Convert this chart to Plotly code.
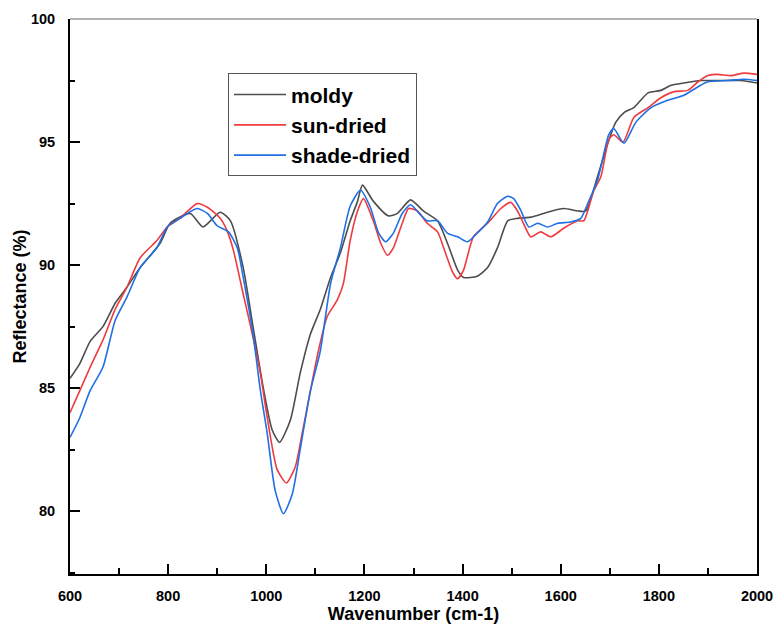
import plotly.graph_objects as go

moldy_w = [600, 620, 641, 667, 692, 716, 743, 784, 804, 845, 871, 906, 927, 953, 973, 994, 1012, 1027, 1049, 1069,
           1090, 1110, 1131, 1151, 1171, 1186, 1196, 1218, 1249, 1267, 1294, 1320, 1349, 1369, 1390, 1402, 1430, 1451,
           1471, 1492, 1512, 1539, 1573, 1606, 1635, 1651, 1675, 1696, 1712, 1729, 1749, 1778, 1804, 1824, 1851, 1886,
           1920, 1967, 2000]
moldy_v = [85.4, 86.0, 86.9, 87.5, 88.45, 89.1, 89.9, 90.9, 91.7, 92.1, 91.55, 92.15, 91.8, 89.9, 87.5, 85.0, 83.3,
           82.8, 83.7, 85.6, 87.2, 88.2, 89.5, 90.5, 91.8, 92.6, 93.25, 92.6, 92.0, 92.1, 92.65, 92.2, 91.8, 90.9, 89.8,
           89.5, 89.55, 89.9, 90.7, 91.8, 91.9, 91.95, 92.15, 92.3, 92.2, 92.2, 93.6, 94.95, 95.8, 96.2, 96.4, 97.0,
           97.1, 97.3, 97.4, 97.5, 97.5, 97.5, 97.4]

sun_w = [600, 620, 641, 667, 692, 716, 743, 777, 798, 824, 859, 880, 906, 920, 933, 951, 967, 988, 1002, 1022, 1041,
         1059, 1073, 1090, 1106, 1124, 1145, 1157, 1171, 1186, 1198, 1218, 1233, 1247, 1259, 1277, 1290, 1308, 1328,
         1349, 1365, 1380, 1390, 1402, 1422, 1451, 1478, 1498, 1512, 1524, 1539, 1559, 1580, 1606, 1635, 1647, 1667,
         1682, 1698, 1708, 1727, 1749, 1778, 1804, 1831, 1859, 1880, 1900, 1920, 1947, 1973, 2000]
sun_v = [84.0, 84.9, 85.85, 86.95, 88.2, 89.1, 90.3, 91.0, 91.55, 91.9, 92.5, 92.35, 91.9, 91.4, 90.6, 89.0, 87.6,
         85.6, 83.8, 81.7, 81.15, 81.8, 83.15, 84.9, 86.5, 87.9, 88.6, 89.25, 91.0, 92.2, 92.7, 91.8, 90.9, 90.4, 90.7,
         91.7, 92.3, 92.2, 91.7, 91.35, 90.5, 89.7, 89.45, 89.8, 91.15, 91.7, 92.3, 92.55, 92.2, 91.7, 91.15, 91.35,
         91.15, 91.5, 91.8, 91.8, 93.0, 93.6, 95.1, 95.3, 95.0, 96.0, 96.4, 96.8, 97.05, 97.1, 97.45, 97.7, 97.75,
         97.7, 97.8, 97.75]

shade_w = [600, 620, 641, 667, 692, 716, 743, 777, 798, 824, 859, 880, 900, 923, 941, 953, 973, 988, 1002, 1018, 1035,
           1053, 1069, 1090, 1110, 1131, 1151, 1171, 1192, 1212, 1229, 1243, 1259, 1277, 1294, 1314, 1328, 1349, 1369,
           1390, 1410, 1430, 1451, 1471, 1492, 1504, 1518, 1535, 1553, 1573, 1594, 1620, 1641, 1655, 1675, 1698, 1708,
           1729, 1753, 1784, 1818, 1851, 1880, 1900, 1941, 1973, 2000]
shade_v = [83.0, 83.8, 84.9, 85.85, 87.75, 88.7, 89.9, 90.7, 91.55, 91.9, 92.3, 92.1, 91.6, 91.35, 90.7, 89.5, 87.2,
           84.9, 83.15, 80.85, 79.9, 80.7, 82.5, 84.9, 86.5, 89.25, 90.7, 92.4, 93.05, 92.35, 91.3, 90.95, 91.3, 92.1,
           92.45, 92.05, 91.8, 91.8, 91.3, 91.15, 90.95, 91.3, 91.75, 92.5, 92.8, 92.7, 92.25, 91.55, 91.7, 91.55, 91.7,
           91.75, 91.9, 92.5, 93.45, 95.3, 95.55, 94.95, 95.8, 96.4, 96.7, 96.9, 97.25, 97.45, 97.5, 97.55, 97.5]

series = [
    ("moldy", moldy_w, moldy_v, "#4d4d4d"),
    ("sun-dried", sun_w, sun_v, "#ee3b3f"),
    ("shade-dried", shade_w, shade_v, "#1f6fe5"),
]

FONT = "Arial, Liberation Sans, sans-serif"

fig = go.Figure()
for name, w, v, c in series:
    fig.add_trace(go.Scatter(x=w, y=v, mode="lines", name=name,
                             line=dict(color=c, width=1.6, shape="spline", smoothing=0.6)))

fig.update_layout(
    width=776, height=628,
    margin=dict(l=70, r=19, t=19, b=54),
    paper_bgcolor="white", plot_bgcolor="white",
    font=dict(family=FONT, color="black"),
    showlegend=True,
    legend=dict(x=0.23, y=0.902, xanchor="left", yanchor="top",
                bordercolor="#555555", borderwidth=1, bgcolor="white",
                font=dict(family=FONT, size=21, color="black", weight="bold"),
                itemwidth=52, tracegroupgap=0),
    xaxis=dict(range=[600, 2000], showgrid=False, zeroline=False, automargin=False,
               showline=True, linecolor="black", linewidth=2,
               ticks="inside", ticklen=10, tickwidth=2, tickcolor="black",
               dtick=200, tick0=600,
               minor=dict(dtick=100, ticks="inside", ticklen=6, tickwidth=2, tickcolor="black"),
               tickfont=dict(family=FONT, size=14.5, weight="bold"),
               ticklabelstandoff=8,
               title=dict(text="Wavenumber (cm-1)", standoff=0,
                          font=dict(family=FONT, size=18, weight="bold"))),
    yaxis=dict(range=[77.45, 100], showgrid=False, zeroline=False, automargin=False,
               showline=True, linecolor="black", linewidth=2, mirror=True,
               ticks="inside", ticklen=10, tickwidth=2, tickcolor="black",
               dtick=5, tick0=80,
               minor=dict(dtick=2.5, ticks="inside", ticklen=5, tickwidth=2, tickcolor="black"),
               tickfont=dict(family=FONT, size=14.5, weight="bold"),
               ticklabelstandoff=10,
               title=dict(text="Reflectance (%)", standoff=0,
                          font=dict(family=FONT, size=18, weight="bold"))),
    shapes=[dict(type="line", xref="paper", yref="paper", x0=0, x1=1, y0=1, y1=1,
                 line=dict(color="#9a9a9a", width=1.5))],
)

fig.write_html("out.html")
